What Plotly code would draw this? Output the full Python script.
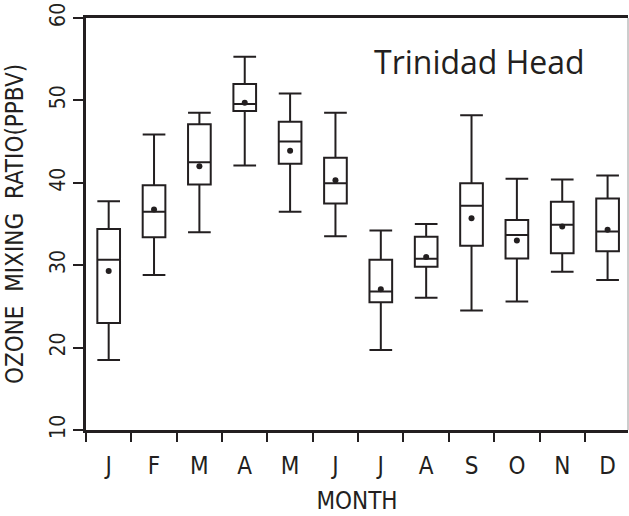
import plotly.graph_objects as go

# Monthly ozone statistics (ppbv)
months = ["J", "F", "M", "A", "M", "J", "J", "A", "S", "O", "N", "D"]
lower_whisker = [18.5, 28.8, 34.0, 42.1, 36.5, 33.5, 19.7, 26.05, 24.5, 25.6, 29.2, 28.2]
q1_values = [23.0, 33.4, 39.8, 48.7, 42.3, 37.5, 25.5, 29.8, 32.35, 30.8, 31.45, 31.7]
median_values = [30.65, 36.5, 42.5, 49.55, 45.0, 39.95, 26.8, 30.77, 37.2, 33.65, 34.9, 34.1]
q3_values = [34.4, 39.7, 47.1, 52.0, 47.4, 43.05, 30.65, 33.45, 39.95, 35.5, 37.7, 38.1]
upper_whisker = [37.76, 45.85, 48.5, 55.3, 50.85, 48.5, 34.2, 35.0, 48.2, 40.5, 40.4, 40.9]
mean_values = [29.3, 36.75, 42.0, 49.7, 43.9, 40.3, 27.07, 30.98, 35.7, 33.0, 34.7, 34.3]

ink = "#231f20"
label_font = "Liberation Sans Narrow, DejaVu Sans Condensed, Liberation Sans"
positions = list(range(len(months)))

fig = go.Figure()
fig.add_trace(go.Box(
    x=positions,
    q1=q1_values,
    median=median_values,
    q3=q3_values,
    lowerfence=lower_whisker,
    upperfence=upper_whisker,
    width=0.5,
    whiskerwidth=1,
    line=dict(color=ink, width=2),
    fillcolor="rgba(255,255,255,0)",
    boxpoints=False,
    showlegend=False,
))
fig.add_trace(go.Scatter(
    x=positions,
    y=mean_values,
    mode="markers",
    marker=dict(color=ink, size=6),
    showlegend=False,
))

fig.update_layout(
    width=629,
    height=516,
    margin=dict(l=86, r=1, t=18, b=86),
    paper_bgcolor="white",
    plot_bgcolor="white",
    font=dict(family=label_font, color=ink),
    xaxis=dict(
        range=[-0.5, 11.45],
        tickmode="array",
        tickvals=positions,
        ticktext=months,
        ticks="",
        tickfont=dict(size=24),
        ticklabelstandoff=12,
        minor=dict(
            tickmode="array",
            tickvals=[p - 0.5 for p in positions],
            ticks="outside",
            ticklen=9,
            tickwidth=1.5,
            tickcolor=ink,
        ),
        showgrid=False,
        zeroline=False,
        showline=True,
        linewidth=3,
        linecolor=ink,
        mirror=True,
        title=dict(text="MONTH", font=dict(size=24), standoff=14),
    ),
    yaxis=dict(
        range=[10, 60],
        tickvals=[10, 20, 30, 40, 50, 60],
        ticks="outside",
        ticklen=10,
        tickwidth=1.5,
        tickcolor=ink,
        tickangle=-90,
        tickfont=dict(size=21),
        showgrid=False,
        zeroline=False,
        showline=True,
        linewidth=3,
        linecolor=ink,
        title=dict(text="OZONE  MIXING  RATIO(PPBV)", font=dict(size=24), standoff=16),
    ),
    shapes=[dict(
        type="line", xref="paper", yref="paper",
        x0=1, x1=1, y0=0, y1=1,
        line=dict(color="#9a9a9a", width=1),
    )],
    annotations=[dict(
        text="Trinidad Head",
        xref="paper", yref="paper",
        x=0.726, y=0.895,
        xanchor="center", yanchor="middle",
        showarrow=False,
        font=dict(family="Open Sans", size=32, color=ink),
    )],
)

fig.write_html("out.html")
